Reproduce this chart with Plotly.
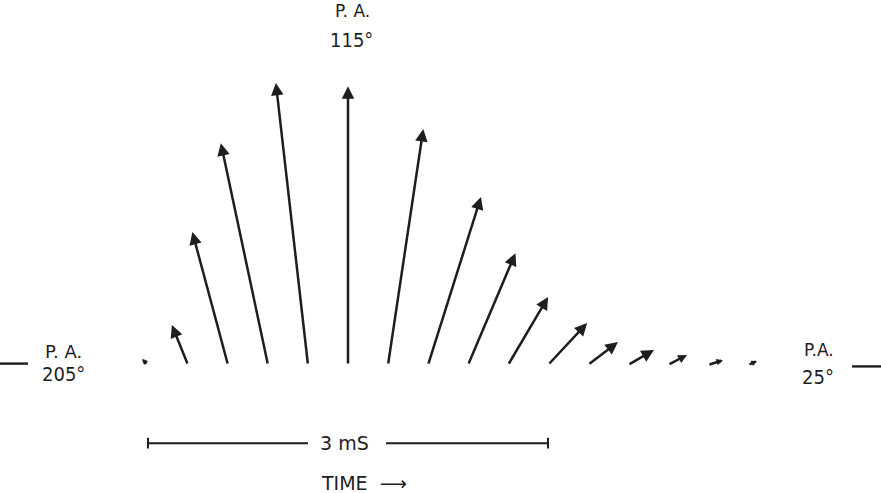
import numpy as np
import plotly.graph_objects as go

# ---- data: polarization vectors across the pulse ----
time_ms = [0.0, 0.3, 0.6, 0.9, 1.2, 1.5, 1.8, 2.1, 2.4, 2.7, 3.0, 3.3, 3.6, 3.9, 4.2, 4.5]
pa_deg = [160, 137, 130, 127, 121.5, 115, 106.5, 97.5, 92, 84.5, 72, 62.5, 55, 53, 43, 49]
amplitude = [3.0, 15.4, 49.2, 81.0, 101.4, 99.6, 85.2, 62.9, 43.4, 28.2, 20.5, 13.5, 10.7, 7.7, 5.6, 3.5]
scale_bar_ms = [0.0, 3.0]
scale_label = "3 mS"

W, H = 881, 493
x_range = [-1.11, 5.4975]
y_range = [-45.71, 130.36]
px_per_ms = W / (x_range[1] - x_range[0])
px_per_unit = H / (y_range[1] - y_range[0])
k = px_per_unit / px_per_ms  # amplitude unit -> ms along x for equal screen scale

INK = "#1e1e1e"
FONT = dict(family="DejaVu Sans", size=18, color=INK)
NUMFONT = "DejaVu Sans Condensed"

fig = go.Figure()
annotations = []
for t, pa, a in zip(time_ms, pa_deg, amplitude):
    th = np.deg2rad(pa - 25.0)  # PA 25 -> right, 115 -> up, 205 -> left
    hx = t + a * np.cos(th) * k
    hy = a * np.sin(th)
    length_px = a * px_per_unit
    head = min(1.0, max(0.45, length_px / 30.0))
    annotations.append(dict(
        x=hx, y=hy, ax=t, ay=0, xref="x", yref="y", axref="x", ayref="y",
        text="", showarrow=True, arrowhead=2, arrowsize=head, arrowwidth=2.5,
        arrowcolor=INK, standoff=0, startstandoff=0))

# scale bar with gap for label
bar_y = -27.9
gap_l, gap_r = 1.2, 1.785
fig.add_trace(go.Scatter(x=[scale_bar_ms[0], gap_l], y=[bar_y, bar_y], mode="lines",
                         line=dict(color=INK, width=2), hoverinfo="skip"))
fig.add_trace(go.Scatter(x=[gap_r, scale_bar_ms[1]], y=[bar_y, bar_y], mode="lines",
                         line=dict(color=INK, width=2), hoverinfo="skip"))
for xe in scale_bar_ms:
    fig.add_trace(go.Scatter(x=[xe, xe], y=[bar_y - 1.9, bar_y + 1.9], mode="lines",
                             line=dict(color=INK, width=2), hoverinfo="skip"))

# side dashes
fig.add_trace(go.Scatter(x=[-1.11, -0.90], y=[0.5, 0.5], mode="lines",
                         line=dict(color=INK, width=2.4), hoverinfo="skip"))
fig.add_trace(go.Scatter(x=[5.28, 5.50], y=[-0.5, -0.5], mode="lines",
                         line=dict(color=INK, width=2.4), hoverinfo="skip"))


def ptxt(x, y, s, size=18, family="DejaVu Sans"):
    annotations.append(dict(x=x / W, y=1 - y / H, xref="paper", yref="paper", text=s,
                            showarrow=False, xanchor="center", yanchor="middle",
                            font=dict(FONT, size=size, family=family)))


ptxt(352, 11, "P. A.", 17)
ptxt(351, 40, "115°", 20, NUMFONT)
ptxt(63, 351, "P. A.", 18)
ptxt(63, 374, "205°", 20, NUMFONT)
ptxt(819, 350, "P.A.", 17)
ptxt(818, 377, "25°", 20, NUMFONT)
ptxt(344, 443, scale_label, 19)
ptxt(364, 483, "TIME  ⟶", 19)

fig.update_layout(
    width=W, height=H, margin=dict(l=0, r=0, t=0, b=0),
    paper_bgcolor="white", plot_bgcolor="white", showlegend=False,
    xaxis=dict(range=x_range, visible=False, fixedrange=True),
    yaxis=dict(range=y_range, visible=False, fixedrange=True),
    annotations=annotations,
)
fig.write_html("out.html", config={"displayModeBar": False},
               post_script="document.body.style.margin='0';document.body.style.overflow='hidden';")
